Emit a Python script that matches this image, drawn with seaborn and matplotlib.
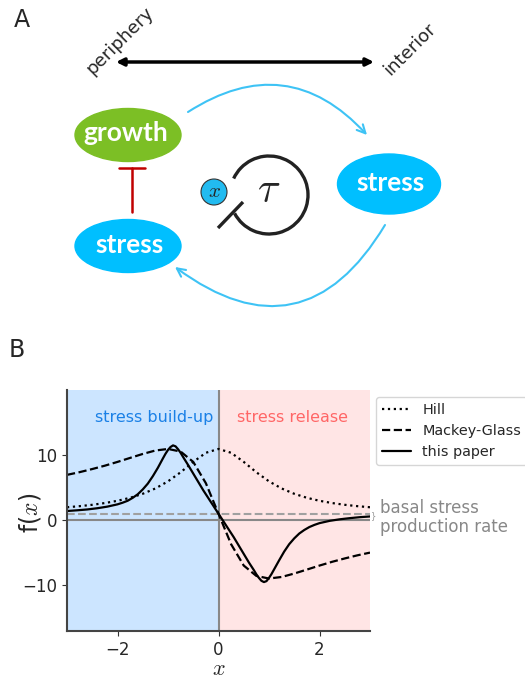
import numpy as np
import pandas as pd
import seaborn as sns
import matplotlib.pyplot as plt
from matplotlib.patches import Ellipse, Circle, Arc, FancyArrowPatch

# curve values
x_smooth = [-3.0, -2.75, -2.5, -2.25, -2.0, -1.75, -1.5, -1.25, -1.0, -0.75, -0.5, -0.25, 0.0,
            0.25, 0.5, 0.75, 1.0, 1.25, 1.5, 1.75, 2.0, 2.25, 2.5, 2.75, 3.0]
hill = [2.0, 2.17, 2.38, 2.65, 3.0, 3.46, 4.08, 4.9, 6.0, 7.4, 9.0, 10.41, 11.0,
        10.41, 9.0, 7.4, 6.0, 4.9, 4.08, 3.46, 3.0, 2.65, 2.38, 2.17, 2.0]
mackey_glass = [7.0, 7.42, 7.9, 8.42, 9.0, 9.62, 10.23, 10.76, 11.0, 10.6, 9.0, 5.71, 1.0,
                -3.71, -7.0, -8.6, -9.0, -8.76, -8.23, -7.62, -7.0, -6.42, -5.9, -5.42, -5.0]

x_paper = [-3.0, -2.8, -2.6, -2.4, -2.2, -2.0, -1.9, -1.8, -1.7, -1.6, -1.5, -1.4, -1.3, -1.2,
           -1.1, -1.05, -1.0, -0.95, -0.9, -0.85, -0.8, -0.75, -0.7, -0.6, -0.5, -0.4, -0.3,
           -0.2, -0.1, 0.0,
           0.1, 0.2, 0.3, 0.4, 0.5, 0.6, 0.7, 0.75, 0.8, 0.85, 0.9, 0.95, 1.0, 1.05, 1.1,
           1.2, 1.3, 1.4, 1.5, 1.6, 1.7, 1.8, 1.9, 2.0, 2.2, 2.4, 2.6, 2.8, 3.0]
this_paper = [1.42, 1.53, 1.66, 1.85, 2.1, 2.45, 2.7, 3.0, 3.45, 4.0, 4.75, 5.65, 6.8, 8.1,
              9.55, 10.25, 10.85, 11.3, 11.55, 11.4, 10.95, 10.4, 9.75, 8.5, 7.2, 5.9, 4.6,
              3.4, 2.2, 1.0,
              -0.2, -1.4, -2.6, -3.9, -5.2, -6.5, -7.7, -8.35, -8.9, -9.35, -9.55, -9.4, -8.9,
              -8.3, -7.6, -6.2, -4.85, -3.7, -2.8, -2.05, -1.5, -1.05, -0.72, -0.45, -0.1, 0.14,
              0.32, 0.47, 0.58]
basal_rate = 1.0

x_ticks = [-2, 0, 2]
y_ticks = [-10, 0, 10]

sns.set_style("ticks")
plt.rcParams['font.family'] = ['DejaVu Sans']
plt.rcParams['mathtext.fontset'] = 'cm'

fig = plt.figure(figsize=(5.25, 6.81), dpi=100)

# ---------------- panel A: schematic ----------------
axA = fig.add_axes([0, 1 - 330 / 681, 1, 330 / 681])
axA.set_xlim(0, 525)
axA.set_ylim(330, 0)
axA.axis('off')

fig.text(22 / 525, 1 - 20 / 681, 'A', fontsize=17, ha='center', va='center')

axA.text(83, 78, 'periphery', rotation=45, ha='left', va='bottom', fontsize=13)
axA.text(380, 79, 'interior', rotation=45, ha='left', va='bottom', fontsize=13)
axA.add_patch(FancyArrowPatch((116, 62), (374, 62), arrowstyle='<|-|>', mutation_scale=11,
                              lw=2.5, color='black', shrinkA=0, shrinkB=0))

green = '#7cbf25'
blue = '#00bfff'
node_font = dict(color='white', fontsize=19, fontweight='bold', family=['Lato', 'DejaVu Sans'],
                 ha='center', va='center')
axA.add_patch(Ellipse((128, 135), 106, 53, color=green))
axA.text(126, 133, 'growth', **node_font)
axA.add_patch(Ellipse((128, 246), 106, 53, color=blue))
axA.text(130, 245, 'stress', **node_font)
axA.add_patch(Ellipse((389, 184), 103, 60, color=blue))
axA.text(391, 183, 'stress', **node_font)

# inhibition growth -| stress
axA.plot([132, 132], [168, 212], color='#c00000', lw=1.8)
axA.plot([119, 145], [168, 168], color='#c00000', lw=1.8)

arc_blue = '#3ec3f5'
axA.add_patch(FancyArrowPatch((188, 112), (367, 135), connectionstyle='arc3,rad=-0.42',
                              arrowstyle='->,head_length=6,head_width=3', lw=1.5,
                              color=arc_blue, shrinkA=0, shrinkB=0))
axA.add_patch(FancyArrowPatch((385, 225), (175, 267), connectionstyle='arc3,rad=-0.55',
                              arrowstyle='->,head_length=6,head_width=3', lw=1.5,
                              color=arc_blue, shrinkA=0, shrinkB=0))

# delayed self-inhibition loop
axA.add_patch(Arc((269, 195), 78, 78, theta1=-155, theta2=152, lw=2.4, color='#222222'))
axA.plot([218, 243], [228, 202], color='#222222', lw=2.4, solid_capstyle='butt')
axA.text(269, 190, r'$\tau$', fontsize=30, ha='center', va='center')
axA.add_patch(Circle((214, 192), 13, facecolor='#22bbf0', edgecolor='#333333', lw=0.8))
axA.text(214, 191, r'$x$', fontsize=15, ha='center', va='center')

# ---------------- panel B: response functions ----------------
ax = fig.add_axes([67 / 525, 50 / 681, 303 / 525, 241 / 681])
fig.text(17 / 525, 1 - 350 / 681, 'B', fontsize=17, ha='center', va='center')

ax.axvspan(-3, 0, color='#cce5ff', lw=0)
ax.axvspan(0, 3, color='#ffe5e5', lw=0)
ax.axhline(0, color='#888888', lw=1.5)
ax.axvline(0, color='#888888', lw=1.5)
ax.axhline(basal_rate, color='#a0a0a0', lw=1.5, ls='--')

df_smooth = pd.DataFrame({'x': x_smooth, 'Hill': hill, 'Mackey-Glass': mackey_glass})
df_paper = pd.DataFrame({'x': x_paper, 'this paper': this_paper})
sns.lineplot(data=df_smooth, x='x', y='Hill', ax=ax, color='black', lw=1.6, ls=':', label='Hill')
sns.lineplot(data=df_smooth, x='x', y='Mackey-Glass', ax=ax, color='black', lw=1.6, ls='--',
             label='Mackey-Glass')
sns.lineplot(data=df_paper, x='x', y='this paper', ax=ax, color='black', lw=1.6, ls='-',
             label='this paper')

ax.text(-0.1, 15.9, 'stress build-up', color='#1a80e6', fontsize=11.5, ha='right', va='center')
ax.text(0.36, 15.9, 'stress release', color='#ff6666', fontsize=11.5, ha='left', va='center')

ax.text(3.02, 0.7, '}', color='#999999', fontsize=6, ha='left', va='center', clip_on=False)
ax.text(3.2, 0.45, 'basal stress\nproduction rate', color='#888888', fontsize=12,
        ha='left', va='center', linespacing=1.05, clip_on=False)

ax.set_xlim(-3, 3)
ax.set_ylim(-17.1, 20.1)
ax.set_xticks(x_ticks)
ax.set_yticks(y_ticks)
ax.tick_params(labelsize=12, color='#333333')
ax.set_xlabel(r'$x$', fontsize=16, labelpad=0)
ax.set_ylabel(r'f($x$)', fontsize=17)
ax.yaxis.set_label_coords(-0.079, 0.49)
sns.despine(ax=ax)
for side in ['left', 'bottom']:
    ax.spines[side].set_color('#444444')
    ax.spines[side].set_linewidth(1.5)

ax.legend(loc='upper left', bbox_to_anchor=(1.02, 0.97), fontsize=10.4, frameon=True,
          borderaxespad=0)

fig.savefig('out.png', dpi=100)
